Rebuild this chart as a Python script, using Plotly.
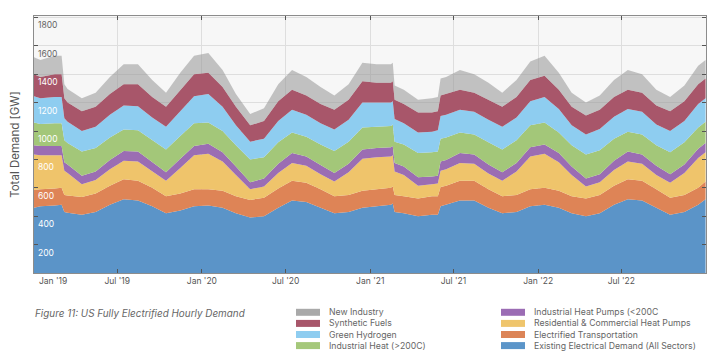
import plotly.graph_objects as go

dates = [
    "2019-01-01", "2019-01-15", "2019-02-15", "2019-03-02", "2019-03-08", "2019-03-15",
    "2019-04-15", "2019-05-15", "2019-06-15", "2019-07-15", "2019-08-15", "2019-09-15",
    "2019-10-15", "2019-11-15", "2019-12-15",
    "2020-01-15", "2020-02-15", "2020-03-15", "2020-04-15", "2020-05-15", "2020-06-15",
    "2020-07-15", "2020-08-15", "2020-09-15", "2020-10-15", "2020-11-15", "2020-12-15",
    "2021-01-15", "2021-02-15", "2021-02-19", "2021-02-23", "2021-03-15", "2021-04-15",
    "2021-05-15", "2021-05-28", "2021-06-03", "2021-06-15", "2021-07-15", "2021-08-15",
    "2021-09-15", "2021-10-15", "2021-11-15", "2021-12-15",
    "2022-01-15", "2022-02-15", "2022-03-15", "2022-04-15", "2022-05-15", "2022-06-15",
    "2022-07-15", "2022-08-15", "2022-09-15", "2022-10-15", "2022-11-15", "2022-12-15",
    "2022-12-31",
]

existing = [460, 470, 475, 480, 430, 425, 410, 430, 480, 520, 510, 470, 420, 440, 470,
            475, 460, 420, 390, 400, 460, 510, 500, 460, 420, 430, 460,
            470, 480, 490, 430, 420, 400, 410, 410, 470, 480, 510, 510, 460, 420, 430, 470,
            480, 460, 420, 400, 420, 480, 520, 510, 460, 410, 430, 480, 520]
transport = [125, 120, 120, 120, 120, 120, 125, 130, 135, 140, 140, 130, 120, 120, 120,
             115, 120, 120, 125, 130, 135, 140, 135, 130, 120, 120, 120,
             120, 120, 120, 120, 120, 125, 130, 130, 135, 135, 140, 140, 130, 120, 120, 120,
             120, 120, 120, 125, 130, 135, 140, 140, 130, 120, 120, 120, 125]
res_heat_pumps = [250, 240, 235, 230, 170, 160, 90, 95, 115, 130, 135, 115, 110, 180, 240,
                  250, 205, 150, 75, 80, 110, 125, 120, 105, 105, 160, 225,
                  225, 220, 220, 165, 150, 90, 85, 90, 115, 115, 125, 120, 110, 110, 165, 230,
                  240, 200, 150, 85, 90, 110, 125, 120, 100, 105, 155, 210, 205]
ind_heat_pumps = [65, 65, 65, 65, 60, 60, 60, 60, 65, 70, 70, 65, 60, 65, 65,
                  70, 65, 60, 50, 55, 65, 70, 65, 65, 60, 60, 65,
                  65, 65, 65, 60, 60, 60, 55, 55, 65, 65, 70, 65, 65, 60, 60, 65,
                  65, 65, 60, 55, 55, 65, 70, 65, 65, 60, 60, 65, 65]
ind_heat = [160, 155, 160, 160, 155, 150, 170, 165, 160, 150, 150, 155, 160, 160, 160,
            150, 150, 150, 160, 150, 150, 145, 140, 145, 155, 155, 155,
            150, 150, 150, 150, 155, 170, 170, 170, 160, 160, 145, 140, 155, 160, 160, 155,
            155, 145, 150, 170, 170, 155, 140, 140, 145, 155, 155, 150, 150]
green_h2 = [185, 180, 185, 185, 155, 150, 145, 150, 160, 170, 170, 160, 160, 175, 190,
            200, 170, 140, 125, 130, 150, 160, 155, 150, 150, 155, 175,
            170, 165, 165, 160, 150, 145, 145, 150, 160, 160, 160, 160, 160, 160, 160, 170,
            180, 165, 140, 140, 150, 155, 160, 160, 145, 150, 150, 165, 165]
synth_fuels = [155, 150, 160, 160, 140, 135, 140, 140, 145, 150, 155, 145, 140, 150, 155,
               150, 140, 130, 115, 125, 140, 140, 135, 135, 140, 140, 150,
               140, 140, 140, 135, 135, 140, 135, 135, 145, 145, 140, 135, 140, 140, 145, 150,
               150, 135, 130, 135, 135, 140, 135, 135, 135, 140, 140, 140, 140]
new_industry = [120, 120, 130, 130, 100, 95, 90, 100, 120, 140, 140, 120, 100, 120, 130,
                140, 120, 90, 80, 90, 120, 140, 130, 120, 100, 110, 130,
                130, 130, 130, 100, 100, 90, 100, 100, 120, 120, 140, 130, 120, 100, 120, 130,
                140, 120, 100, 90, 100, 120, 140, 130, 110, 100, 110, 130, 130]

# stack order bottom -> top
series_names = [
    "Existing Electrical Demand (All Sectors)",
    "Electrified Transportation",
    "Residential & Commercial Heat Pumps",
    "Industrial Heat Pumps (<200C",
    "Industrial Heat (>200C)",
    "Green Hydrogen",
    "Synthetic Fuels",
    "New Industry",
]
series_values = [existing, transport, res_heat_pumps, ind_heat_pumps,
                 ind_heat, green_h2, synth_fuels, new_industry]
series_colors = ["#5b94c8", "#de8456", "#efc46b", "#9b6db3",
                 "#a3c779", "#8ecdf0", "#a8566a", "rgba(150,150,150,0.55)"]
legend_colors = ["#5b95c9", "#dc8457", "#efc56c", "#9b6cb4",
                 "#a5c87a", "#8fcdf0", "#a8566a", "#a9a9a9"]

y_ticks_low = [200, 400, 600, 800, 1000, 1200, 1400]   # labels drawn in white
y_ticks_high = [1600, 1800]                             # labels drawn in grey
x_tickvals = ["2019-07-01", "2020-01-01", "2020-07-01", "2021-01-01",
              "2021-07-01", "2022-01-01", "2022-07-01"]
x_ticktext = ["Jul '19", "Jan '20", "Jul '20", "Jan '21", "Jul '21", "Jan '22", "Jul '22"]
first_x_label = "Jan '19"

FONT = "Inter"
# the page body keeps its default 8px margin, so the figure is drawn 8px in
OFF = 8
W, H = 720 - OFF, 364 - OFF
L, R, T, B = 34 - OFF, 14, 16 - OFF, 91

fig = go.Figure()
for name, vals, col in zip(series_names, series_values, series_colors):
    fig.add_trace(go.Scatter(
        x=dates, y=vals, name=name, stackgroup="demand", mode="lines",
        line=dict(width=0, color=col), fillcolor=col, showlegend=False,
        hoverinfo="skip",
    ))

axis_common = dict(
    showline=True, linecolor="#8c8c8c", linewidth=1, mirror="ticks",
    ticks="inside", ticklen=4, tickcolor="#555555",
    gridcolor="#dedede", gridwidth=1, zeroline=False, automargin=False,
)

all_y_ticks = y_ticks_low + y_ticks_high

fig.update_layout(
    width=W, height=H,
    margin=dict(l=L, r=R, t=T, b=B),
    paper_bgcolor="white", plot_bgcolor="#f7f7f7",
    font=dict(family=FONT, color="#555555"),
    hovermode=False,
    xaxis=dict(
        type="date", range=["2019-01-01", "2023-01-01"],
        tickvals=x_tickvals, ticktext=x_ticktext,
        tickfont=dict(size=8.5, color="#555555"),
        **axis_common,
    ),
    yaxis=dict(
        range=[0, 1810], tickvals=all_y_ticks, showticklabels=False,
        title=dict(text="Total Demand [GW]", font=dict(size=11.5, color="#555555"),
                   standoff=11),
        **axis_common,
    ),
)

pw = W - L - R
ph = H - T - B


def px_x(px):
    # screen pixel -> paper fraction
    return (px - OFF - L) / pw


def px_y(py):
    return (H - B - (py - OFF)) / ph


annotations = [
    dict(text=first_x_label, xref="paper", yref="paper", x=px_x(37), y=px_y(281),
         xanchor="left", yanchor="middle", showarrow=False,
         font=dict(size=8.5, color="#555555")),
    dict(text="Figure 11: US Fully Electrified Hourly Demand", xref="paper", yref="paper",
         x=px_x(33), y=px_y(313), xanchor="left", yanchor="middle", showarrow=False,
         font=dict(size=9.9, color="#666666", style="italic")),
]
# y tick labels sit inside the plot, just under each grid line
for v in all_y_ticks:
    annotations.append(dict(text=str(v), xref="paper", yref="y", x=0, y=v,
                            xanchor="left", yanchor="top", xshift=2, yshift=-1,
                            showarrow=False,
                            font=dict(size=8.5,
                                      color="white" if v in y_ticks_low else "#666666")))
shapes = []

legend_order = [7, 6, 5, 4, 3, 2, 1, 0]  # top of stack first
col_x = [296, 501]
row_y0 = 312.3
row_dy = 11.1
for i, idx in enumerate(legend_order):
    c, r = divmod(i, 4)
    cx = col_x[c]
    cy = row_y0 + r * row_dy
    shapes.append(dict(type="rect", xref="paper", yref="paper",
                       x0=px_x(cx), x1=px_x(cx + 24), y0=px_y(cy - 3.5), y1=px_y(cy + 3.5),
                       fillcolor=legend_colors[idx], line=dict(width=0)))
    annotations.append(dict(text=series_names[idx], xref="paper", yref="paper",
                            x=px_x(cx + 31), y=px_y(cy), xanchor="left", yanchor="middle",
                            showarrow=False, font=dict(size=8.7, color="#666666")))

fig.update_layout(annotations=annotations, shapes=shapes)
fig.write_html("out.html", config={"displayModeBar": False})
